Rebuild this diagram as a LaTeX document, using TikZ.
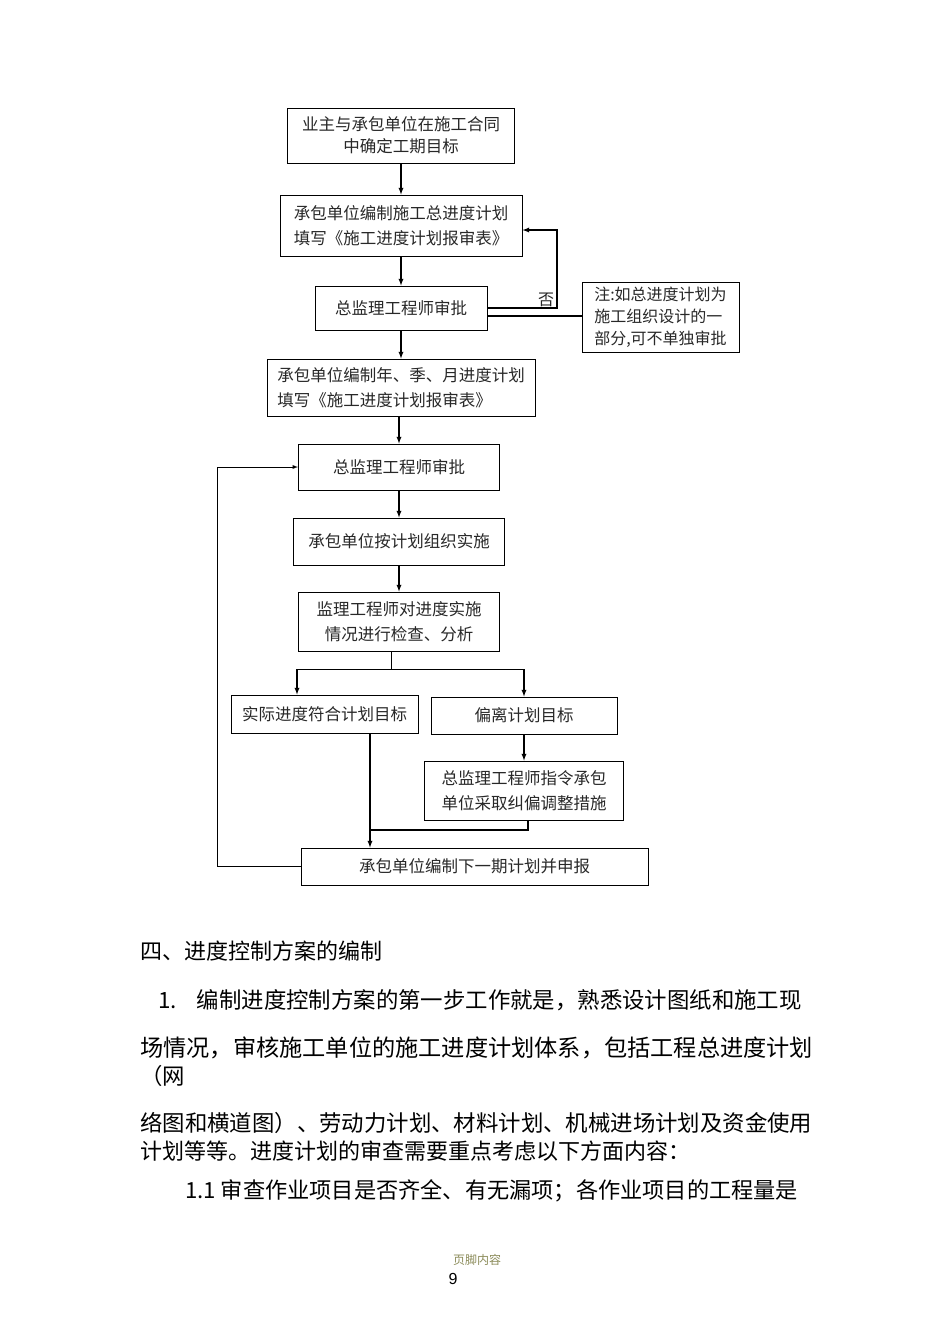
\documentclass[tikz,border=0pt]{standalone}
\usepackage{fontspec}
\setmainfont{Noto Sans CJK SC}
\newfontfamily\arialfont{Liberation Sans}
\usetikzlibrary{arrows}
\definecolor{footolive}{RGB}{140,140,90}
\definecolor{boxtext}{RGB}{40,40,40}

\tikzset{
  stepbox/.style={draw, line width=1pt, text=boxtext, inner sep=0pt, align=center,
    font=\fontsize{16.5}{25}\selectfont},
  flow/.style={line width=1.3pt, -latex},
  plain/.style={line width=1.3pt},
  para/.style={anchor=west, inner sep=0pt, font=\fontsize{22.4}{23}\selectfont}
}

\begin{document}
\begin{tikzpicture}[x=1pt,y=-1pt]

    \fill[white] (0,0) rectangle (950,1344);
    \useasboundingbox (0,0) rectangle (950,1344);

    %box 1
    \node[stepbox, minimum width=227pt, minimum height=55pt, font=\fontsize{16.5}{22}\selectfont]
      (goal) at (401,135.5) {业主与承包单位在施工合同\\中确定工期目标};
    %box 2
    \node[stepbox, minimum width=242pt, minimum height=61pt, align=left]
      (master) at (401,225.5) {承包单位编制施工总进度计划\\填写《施工进度计划报审表》};
    %box 3
    \node[stepbox, minimum width=172pt, minimum height=44pt]
      (check1) at (401,308) {总监理工程师审批};
    %note
    \node[stepbox, minimum width=157pt, minimum height=70pt, align=left, font=\fontsize{16}{22}\selectfont]
      (note) at (660.5,317) {注:如总进度计划为\\施工组织设计的一\\部分,可不单独审批};
    %box 4
    \node[stepbox, minimum width=268pt, minimum height=57pt, align=left]
      (period) at (401,387.5) {承包单位编制年、季、月进度计划\\填写《施工进度计划报审表》};
    %box 5
    \node[stepbox, minimum width=201pt, minimum height=46pt]
      (check2) at (399,467) {总监理工程师审批};
    %box 6
    \node[stepbox, minimum width=211pt, minimum height=47pt]
      (carry) at (399,541.5) {承包单位按计划组织实施};
    %box 7
    \node[stepbox, minimum width=201pt, minimum height=59pt]
      (inspect) at (399,621.5) {监理工程师对进度实施\\情况进行检查、分析};
    %box 8
    \node[stepbox, minimum width=187pt, minimum height=38pt]
      (ontrack) at (324.5,714) {实际进度符合计划目标};
    %box 9
    \node[stepbox, minimum width=186pt, minimum height=37pt]
      (deviate) at (524,715.5) {偏离计划目标};
    %box 10
    \node[stepbox, minimum width=199pt, minimum height=59pt]
      (adjust) at (524,790.5) {总监理工程师指令承包\\单位采取纠偏调整措施};
    %box 11
    \node[stepbox, minimum width=347pt, minimum height=37pt]
      (next) at (474.5,866.5) {承包单位编制下一期计划并申报};

    %main column
    \draw[flow] (goal) -- (master);
    \draw[flow] (master) -- (check1);
    \draw[flow] (check1) -- (period);
    \draw[flow] (period.south -| check2) -- (check2);
    \draw[flow] (check2) -- (carry);
    \draw[flow] (carry) -- (inspect);

    %back to box 2
    \coordinate (no) at (557,308);
    \coordinate (up) at (557,230);
    \draw[flow] (check1.east) -- (no) -- (up) -- (up -| master.east);
    \node[font=\fontsize{16}{16}\selectfont, text=boxtext, fill=white, inner sep=0.5pt] (nolabel) at (546,300) {否};
    \coordinate (nt) at (487,316);
    \draw[plain] (nt) -- (nt -| note.west);

    %split
    \coordinate (split) at (391,669);
    \coordinate (lb) at (297,669);
    \coordinate (rb) at (524,669);
    \draw[line width=0.8pt] (inspect.south -| split) -- (split);
    \draw[line width=0.8pt] (lb) -- (rb);
    \draw[flow] (lb) -- (lb |- ontrack.north);
    \draw[flow] (rb) -- (rb |- deviate.north);
    \draw[flow] (deviate) -- (adjust);

    %join
    \coordinate (m) at (370,830);
    \coordinate (join) at (528,830);
    \draw[plain] (adjust.south -| join) -- (join) -- (m);
    \draw[flow] (ontrack.south -| m) -- (m |- next.north);

    %loop
    \coordinate (back) at (217,866.5);
    \draw[flow, line width=0.9pt] (next.west) -- (back) |- (check2.west);

    %text below
    \node[para, font=\fontsize{22}{23}\selectfont] (h4) at (140,951) {四、进度控制方案的编制};
    \node[para] (p1) at (158,1000) {1.\hspace{20pt}编制进度控制方案的第一步工作就是，熟悉设计图纸和施工现};
    \node[para, font=\fontsize{23.2}{23}\selectfont] (p2) at (140,1048) {场情况，审核施工单位的施工进度计划体系，包括工程总进度计划};
    \node[para] (p3) at (140,1076) {（网};
    \node[para] (p4) at (140,1123) {络图和横道图）、劳动力计划、材料计划、机械进场计划及资金使用};
    \node[para, font=\fontsize{22}{23}\selectfont] (p5) at (140,1151) {计划等等。进度计划的审查需要重点考虑以下方面内容：};
    \node[para, font=\fontsize{22.2}{23}\selectfont] (p6) at (185,1191) {1.1 审查作业项目是否齐全、有无漏项；各作业项目的工程量是};

    %footer
    \node[font=\fontsize{12}{12}\selectfont, text=footolive] (foot) at (477,1260) {页脚内容};
    \node[font=\arialfont\fontsize{16}{16}\selectfont] (page) at (453,1279) {9};

\end{tikzpicture}
\end{document}
